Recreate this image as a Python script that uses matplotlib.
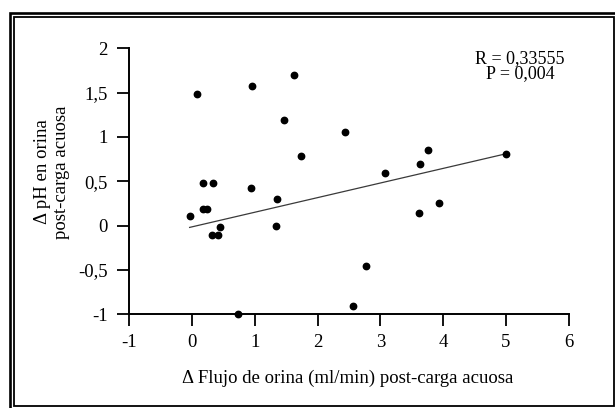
import numpy as np
import matplotlib
matplotlib.use('Agg')
import matplotlib.pyplot as plt
from matplotlib.patches import Rectangle

# values
flujo = [-0.04, 0.08, 0.175, 0.175, 0.23, 0.32, 0.34, 0.42, 0.44, 0.725,
         0.94, 0.95, 1.33, 1.36, 1.46, 1.63, 1.74, 2.44, 2.56, 2.77,
         3.07, 3.61, 3.63, 3.76, 3.94, 5.0]
ph = [0.11, 1.48, 0.485, 0.19, 0.19, -0.11, 0.485, -0.11, -0.01, -1.0,
      0.425, 1.58, 0.0, 0.30, 1.19, 1.70, 0.78, 1.06, -0.91, -0.45,
      0.59, 0.14, 0.70, 0.85, 0.25, 0.81]
fit_slope = 0.1647
fit_intercept = -0.0134
xticks = [-1, 0, 1, 2, 3, 4, 5, 6]
xtick_labels = ['-1', '0', '1', '2', '3', '4', '5', '6']
yticks = [-1, -0.5, 0, 0.5, 1, 1.5, 2]
ytick_labels = ['-1', '-0,5', '0', '0,5', '1', '1,5', '2']
stats_text = 'R = 0,33555\nP = 0,004'

plt.rcParams['font.family'] = ['Liberation Serif', 'DejaVu Serif']
fs = 13.5

W, H = 615, 408
fig = plt.figure(figsize=(W / 100, H / 100), dpi=100)
ax = fig.add_axes([129.4 / W, 1 - 314.3 / H, (568.6 - 129.4) / W, (314.3 - 48.3) / H])

x = np.array(flujo)
y = np.array(ph)
ax.plot(x, y, 'o', color='black', markersize=4.6, clip_on=False, zorder=3)

xl = np.array([x.min(), x.max()])
ax.plot(xl, fit_slope * xl + fit_intercept, color='#3a3a3a', lw=0.9, zorder=2)

ax.set_xlim(-1, 6)
ax.set_ylim(-1, 2)
ax.set_xticks(xticks)
ax.set_xticklabels(xtick_labels)
ax.set_yticks(yticks)
ax.set_yticklabels(ytick_labels)
for s in ['top', 'right']:
    ax.spines[s].set_visible(False)
for s in ['left', 'bottom']:
    ax.spines[s].set_linewidth(1.4)
ax.tick_params(direction='out', length=8.5, width=1.3, labelsize=fs)
ax.tick_params(axis='x', pad=6)
ax.tick_params(axis='y', pad=7)

fig.text(348 / W, 1 - 378 / H, '\u0394 Flujo de orina (ml/min) post-carga acuosa',
         ha='center', va='center', fontsize=fs)
fig.text(52 / W, 1 - 172 / H, '\u0394 pH en orina\npost-carga acuosa',
         ha='center', va='center', rotation=90, fontsize=fs,
         multialignment='center', linespacing=1.15)

fig.text(520 / W, 1 - 66.5 / H, stats_text, ha='center', va='center', fontsize=13,
         multialignment='center', linespacing=0.86)

# double frame round the whole figure
fig.add_artist(Rectangle((9.7 / W, 1 - 412 / H), (618 - 9.7) / W, (412 - 13.3) / H,
                         transform=fig.transFigure, fill=False, lw=1.9, color='black'))
fig.add_artist(Rectangle((14.3 / W, 1 - 406 / H), (613.5 - 14.3) / W, (406 - 16.8) / H,
                         transform=fig.transFigure, fill=False, lw=1.3, color='black'))

fig.savefig('out.png', dpi=100)
